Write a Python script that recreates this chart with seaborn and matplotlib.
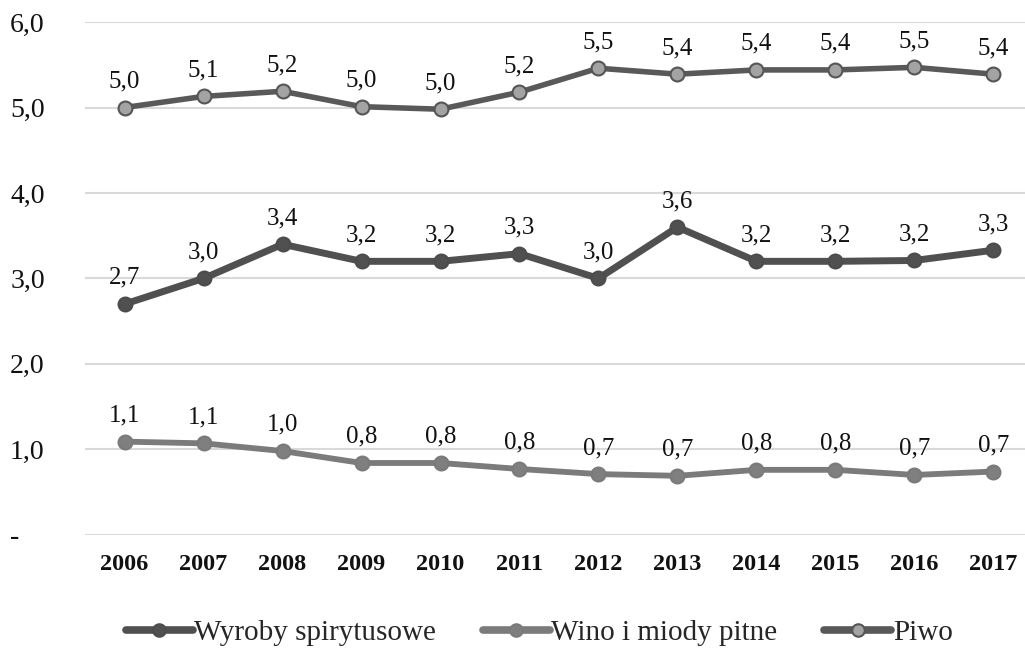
import matplotlib
matplotlib.use("Agg")
import matplotlib.pyplot as plt
import seaborn as sns
import pandas as pd
from matplotlib.ticker import FuncFormatter
from matplotlib.lines import Line2D

years = ["2006", "2007", "2008", "2009", "2010", "2011",
         "2012", "2013", "2014", "2015", "2016", "2017"]
spirits = [2.70, 3.00, 3.40, 3.20, 3.20, 3.29, 3.00, 3.60, 3.20, 3.20, 3.21, 3.33]
wine = [1.09, 1.07, 0.98, 0.84, 0.84, 0.77, 0.71, 0.69, 0.76, 0.76, 0.70, 0.74]
beer = [5.00, 5.13, 5.19, 5.01, 4.98, 5.18, 5.46, 5.39, 5.44, 5.44, 5.47, 5.39]
series_names = ["Wyroby spirytusowe", "Wino i miody pitne", "Piwo"]

sns.set_theme(style="white")
plt.rcParams["font.family"] = ["Liberation Serif", "DejaVu Serif"]

frames = []
for name, vals in zip(series_names, [spirits, wine, beer]):
    frames.append(pd.DataFrame({"rok": years, "wartosc": vals, "seria": name}))
df = pd.concat(frames, ignore_index=True)
df["x"] = df["rok"].map({y: i for i, y in enumerate(years)})

styles = {
    "Wyroby spirytusowe": dict(color="#505050", lw=5.0, mfc="#505050", mec="#4c4c4c", ms=10),
    "Wino i miody pitne": dict(color="#7b7b7b", lw=4.2, mfc="#7f7f7f", mec="#7a7a7a", ms=10),
    "Piwo": dict(color="#595959", lw=4.0, mfc="#a3a3a3", mec="#555555", ms=10),
}

fig = plt.figure(figsize=(10.25, 6.49), dpi=100)
ax = fig.add_axes([0.083, 0.176, 0.917, 0.790])

for name in series_names:
    st = styles[name]
    sub = df[df["seria"] == name]
    sns.lineplot(data=sub, x="x", y="wartosc", ax=ax, color=st["color"],
                 linewidth=st["lw"], marker="o", markersize=st["ms"],
                 markerfacecolor=st["mfc"], markeredgecolor=st["mec"],
                 markeredgewidth=1.5, legend=False, zorder=3)
    for xi, v in zip(sub["x"], sub["wartosc"]):
        ax.annotate(f"{v:.1f}".replace(".", ","), (xi, v), xytext=(0, 14.5),
                    textcoords="offset points", ha="center", va="baseline",
                    fontsize=18, color="#111111")

ax.set_ylim(0, 6)
ax.set_xlim(-0.5, 11.4)
ax.set_yticks([0, 1, 2, 3, 4, 5, 6])
ax.yaxis.set_major_formatter(FuncFormatter(
    lambda v, p: "-" if abs(v) < 1e-9 else f"{v:.1f}".replace(".", ",")))
ax.set_xticks(range(len(years)))
ax.set_xticklabels(years, fontweight="bold")
ax.tick_params(axis="x", labelsize=17.5, length=0, pad=14, labelcolor="#111111")
ax.tick_params(axis="y", labelsize=20, length=0, pad=54, labelcolor="#111111")
for lbl in ax.get_yticklabels():
    lbl.set_horizontalalignment("left")
ax.grid(axis="y", color="#d9d9d9", linewidth=1.5)
ax.grid(axis="x", visible=False)
ax.set_axisbelow(True)
for s in ax.spines.values():
    s.set_visible(False)
ax.set_xlabel("")
ax.set_ylabel("")

handles = []
for name in series_names:
    st = styles[name]
    handles.append(Line2D([], [], color=st["color"], lw=5.5, marker="o",
                          markersize=9, markerfacecolor=st["mfc"],
                          markeredgecolor=st["mec"], markeredgewidth=1.5))
fig.legend(handles, series_names, loc="center", bbox_to_anchor=(0.526, 0.025),
           ncol=3, frameon=False, fontsize=21, handlelength=2.3,
           handletextpad=0.05, columnspacing=1.6)

fig.savefig("out.png", dpi=100)
